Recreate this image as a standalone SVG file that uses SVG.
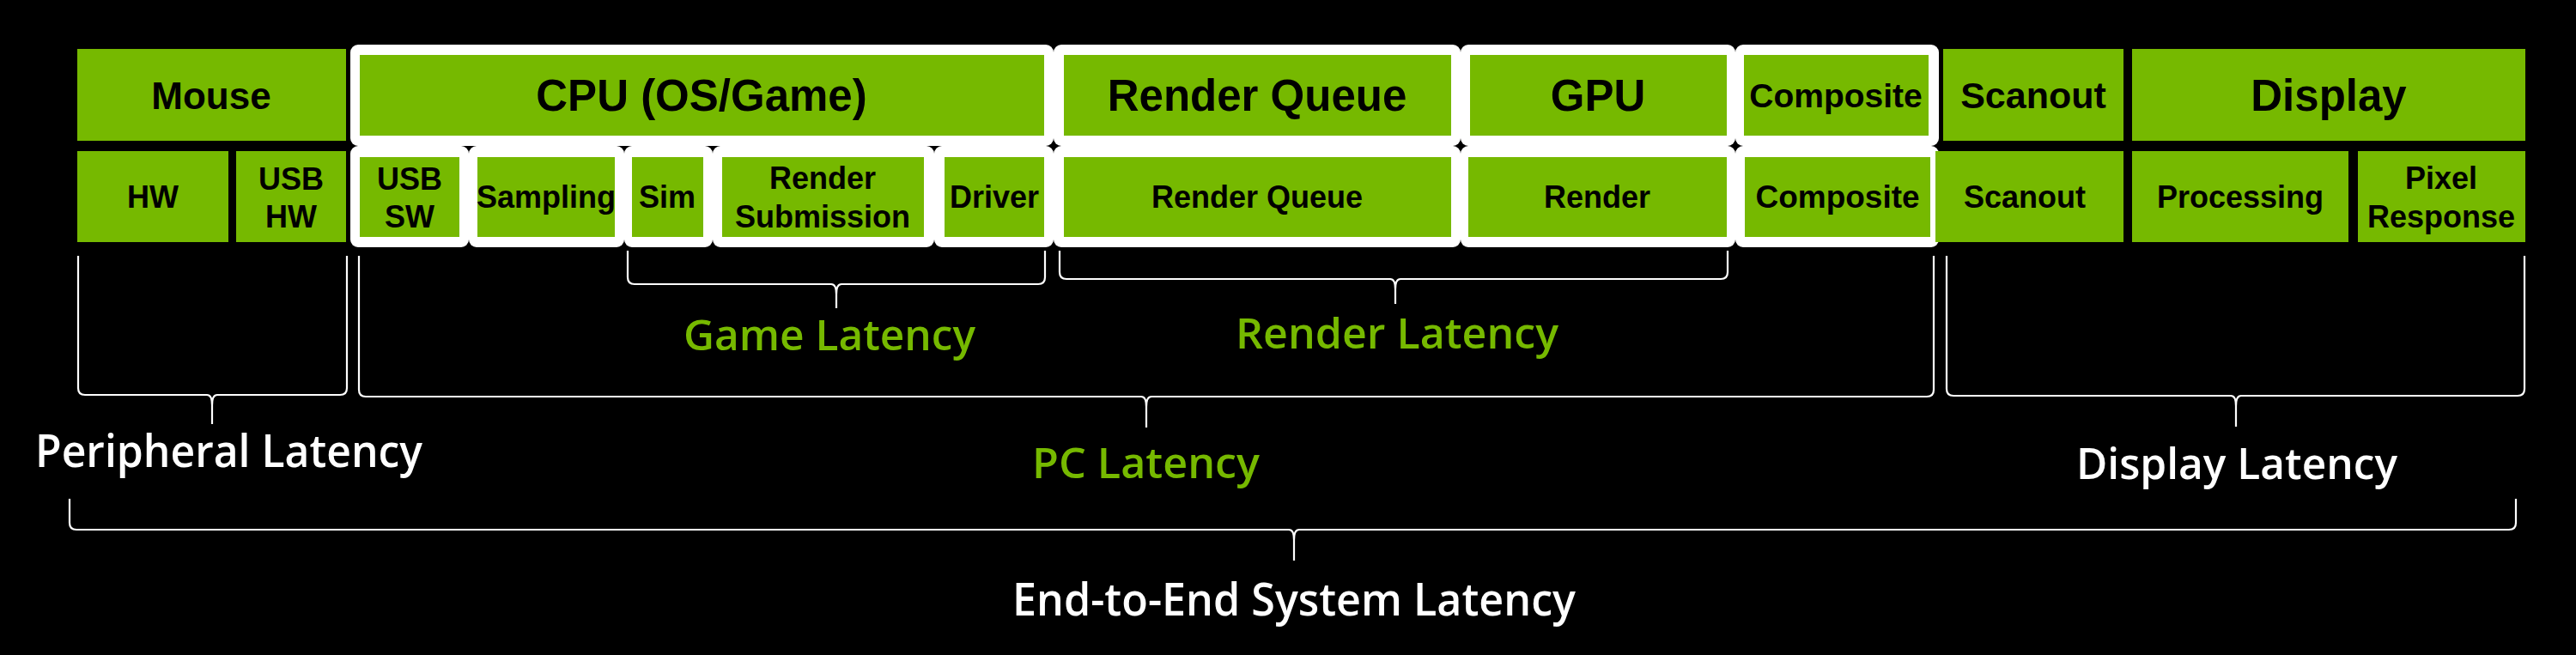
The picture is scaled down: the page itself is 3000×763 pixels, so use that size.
<svg xmlns="http://www.w3.org/2000/svg" width="3000" height="763" viewBox="0 0 3000 763">
<style>
.g{fill:#76b900}
.w{fill:#ffffff}
.t{font-family:"Liberation Sans",Arial,sans-serif;font-weight:bold;fill:#000;text-anchor:middle}
.big{font-size:51px}
.sm{font-size:36px}
.lbl{font-family:"Open Sans","Noto Sans",sans-serif;font-weight:600}
.wt{fill:#ffffff}
.gt{fill:#76b900}
.br{fill:none;stroke:#ffffff;stroke-width:2.2;stroke-linejoin:round}
</style>
<rect width="3000" height="763" fill="#000"/>
<g id="outline">
<rect class="w" x="408" y="52" width="819" height="118" rx="9"/>
<rect class="w" x="1227" y="52" width="474" height="118" rx="9"/>
<rect class="w" x="1701" y="52" width="320" height="118" rx="9"/>
<rect class="w" x="2021" y="52" width="237" height="118" rx="9"/>
<rect class="w" x="408" y="170" width="138" height="118" rx="9"/>
<rect class="w" x="546" y="170" width="181" height="118" rx="9"/>
<rect class="w" x="727" y="170" width="103" height="118" rx="9"/>
<rect class="w" x="830" y="170" width="258" height="118" rx="9"/>
<rect class="w" x="1088" y="170" width="139" height="118" rx="9"/>
<rect class="w" x="1227" y="170" width="474" height="118" rx="9"/>
<rect class="w" x="1701" y="170" width="320" height="118" rx="9"/>
<rect class="w" x="2021" y="170" width="237" height="118" rx="9"/>
</g>
<g id="mouse"><rect class="g" x="90" y="57" width="313" height="107"/><text class="t" x="246" y="127" font-size="44">Mouse</text></g>
<g id="hw"><rect class="g" x="90" y="176" width="176" height="106"/><text class="t sm" x="178" y="242">HW</text></g>
<g id="usbhw"><rect class="g" x="275" y="176" width="128" height="106"/><text class="t sm" x="339" y="221">USB</text><text class="t sm" x="339" y="265">HW</text></g>
<g id="cpu"><rect class="g" x="419" y="64" width="797" height="94"/><text class="t big" x="817" y="129">CPU (OS/Game)</text></g>
<g id="rq"><rect class="g" x="1239" y="64" width="451" height="94"/><text class="t big" x="1464" y="129">Render Queue</text></g>
<g id="gpu"><rect class="g" x="1712" y="64" width="299" height="94"/><text class="t big" x="1861" y="129">GPU</text></g>
<g id="comp"><rect class="g" x="2031" y="64" width="215" height="94"/><text class="t" x="2138" y="125" font-size="39">Composite</text></g>
<g id="usbsw"><rect class="g" x="419" y="183" width="116" height="93"/><text class="t sm" x="477" y="221">USB</text><text class="t sm" x="477" y="265">SW</text></g>
<g id="sampling"><rect class="g" x="556" y="183" width="160" height="93"/><text class="t sm" x="636" y="242">Sampling</text></g>
<g id="sim"><rect class="g" x="736" y="183" width="83" height="93"/><text class="t sm" x="777" y="242">Sim</text></g>
<g id="rsub"><rect class="g" x="841" y="183" width="235" height="93"/><text class="t sm" x="958" y="220">Render</text><text class="t sm" x="958" y="265">Submission</text></g>
<g id="driver"><rect class="g" x="1100" y="183" width="116" height="93"/><text class="t sm" x="1158" y="242">Driver</text></g>
<g id="rq2"><rect class="g" x="1239" y="183" width="451" height="93"/><text class="t sm" x="1464" y="242">Render Queue</text></g>
<g id="render"><rect class="g" x="1710" y="183" width="301" height="93"/><text class="t sm" x="1860" y="242">Render</text></g>
<g id="comp2"><rect class="g" x="2032" y="183" width="216" height="93"/><text class="t" x="2140" y="242" font-size="37">Composite</text></g>
<g id="scanout"><rect class="g" x="2263" y="57" width="210" height="107"/><text class="t" x="2368" y="126" font-size="43">Scanout</text></g>
<g id="scanout2"><rect class="g" x="2254" y="176" width="219" height="106"/><text class="t sm" x="2358" y="242">Scanout</text></g>
<g id="display"><rect class="g" x="2483" y="57" width="458" height="107"/><text class="t big" x="2712" y="129">Display</text></g>
<g id="processing"><rect class="g" x="2483" y="176" width="252" height="106"/><text class="t sm" x="2609" y="242">Processing</text></g>
<g id="pixel"><rect class="g" x="2746" y="176" width="195" height="106"/><text class="t sm" x="2843" y="220">Pixel</text><text class="t sm" x="2843" y="265">Response</text></g>
<g id="connectors">
<path class="br" d="M91,298 L91,452 Q91,460 99,460 L241,460 Q247,460 247,472 L247,494 M247,472 Q247,460 253,460 L396,460 Q404,460 404,452 L404,298"/>
<path class="br" d="M418,298 L418,454 Q418,462 426,462 L1329,462 Q1335,462 1335,474 L1335,498 M1335,474 Q1335,462 1341,462 L2244,462 Q2252,462 2252,454 L2252,298"/>
<path class="br" d="M2267,298 L2267,453 Q2267,461 2275,461 L2598,461 Q2604,461 2604,473 L2604,497 M2604,473 Q2604,461 2610,461 L2932,461 Q2940,461 2940,453 L2940,298"/>
<path class="br" d="M731,292 L731,323 Q731,331 739,331 L968,331 Q974,331 974,343 L974,359 M974,343 Q974,331 980,331 L1209,331 Q1217,331 1217,323 L1217,292"/>
<path class="br" d="M1234,292 L1234,317 Q1234,325 1242,325 L1619,325 Q1625,325 1625,337 L1625,354 M1625,337 Q1625,325 1631,325 L2004,325 Q2012,325 2012,317 L2012,292"/>
<path class="br" d="M81,581 L81,609 Q81,617 89,617 L1501,617 Q1507,617 1507,629 L1507,653 M1507,629 Q1507,617 1513,617 L2922,617 Q2930,617 2930,609 L2930,581"/>
</g>
<g id="labels">
<text class="lbl wt" x="41" y="544" font-size="52" textLength="451" lengthAdjust="spacingAndGlyphs">Peripheral Latency</text>
<text class="lbl gt" x="796" y="408" font-size="48" textLength="340" lengthAdjust="spacingAndGlyphs">Game Latency</text>
<text class="lbl gt" x="1439" y="406" font-size="49" textLength="376" lengthAdjust="spacingAndGlyphs">Render Latency</text>
<text class="lbl gt" x="1202" y="557" font-size="49" textLength="265" lengthAdjust="spacingAndGlyphs">PC Latency</text>
<text class="lbl wt" x="2418" y="558" font-size="50" textLength="374" lengthAdjust="spacingAndGlyphs">Display Latency</text>
<text class="lbl wt" x="1179" y="717" font-size="52" textLength="656" lengthAdjust="spacingAndGlyphs">End-to-End System Latency</text>
</g>
</svg>
